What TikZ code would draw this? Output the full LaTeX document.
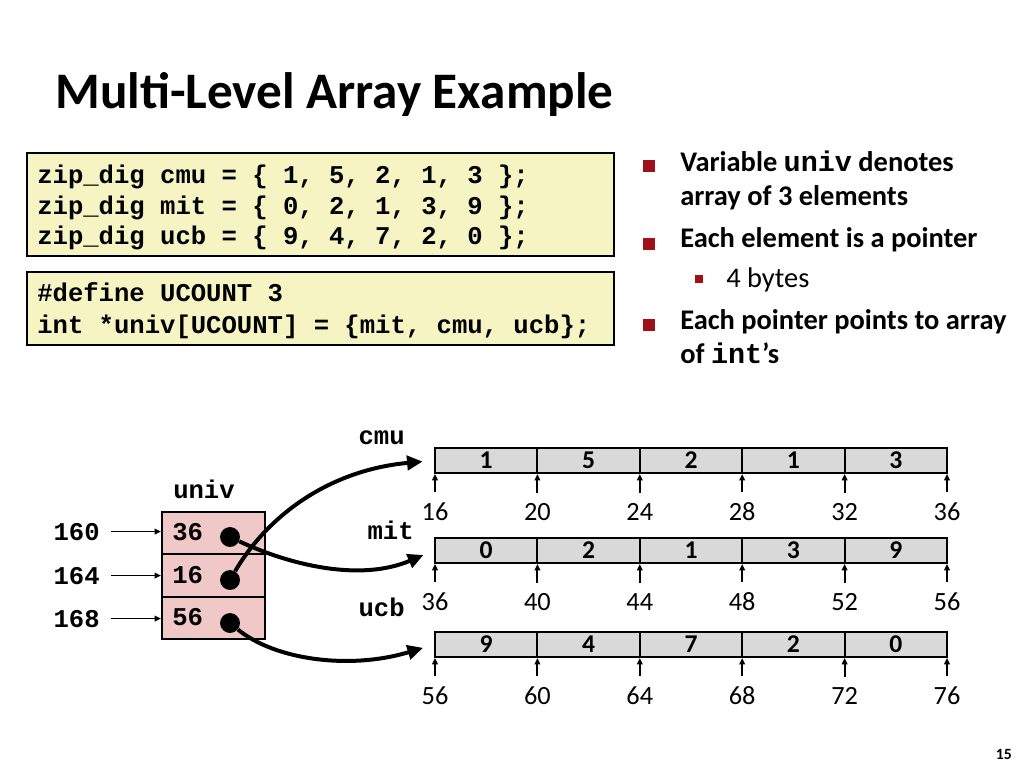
\documentclass[tikz,border=0pt]{standalone}
\usepackage{fontspec}
\setmainfont{Carlito}
\setmonofont{Liberation Mono}
\usetikzlibrary{arrows.meta}
\definecolor{codebg}{RGB}{247,244,196}
\definecolor{univbg}{RGB}{240,200,200}
\definecolor{cellbg}{RGB}{217,217,217}
\definecolor{bulletred}{RGB}{160,16,24}

\tikzset{
  codebox/.style={draw, fill=codebg, line width=1pt, minimum width=412.7pt, inner sep=0pt},
  codetxt/.style={anchor=base west, inner sep=0pt, font=\ttfamily\bfseries\fontsize{18}{21}\selectfont},
  bullet/.style={fill=bulletred, minimum size=8pt, inner sep=0pt},
  subbullet/.style={fill=bulletred, minimum size=5.5pt, inner sep=0pt},
  btxt/.style={anchor=base west, inner sep=0pt, font=\bfseries\fontsize{20}{24}\selectfont},
  mono/.style={font=\ttfamily\bfseries\fontsize{18}{21}\selectfont},
  ucell/.style={draw, fill=univbg, line width=1.4pt, minimum width=72.4pt, minimum height=29.9pt, inner sep=0pt},
  dot/.style={circle, fill=black, minimum size=14pt, inner sep=0pt},
  cell/.style={draw, fill=cellbg, line width=1.4pt, minimum width=72pt, minimum height=17.6pt, inner sep=0pt, font=\bfseries\fontsize{18}{21}\selectfont},
  addr/.style={anchor=base, inner sep=0pt, font=\fontsize{18.5}{22}\selectfont},
  tick/.style={line width=1.4pt, -{Triangle[length=4.5pt,width=4pt]}},
  addrarrow/.style={line width=1.1pt, -{Triangle[length=4.5pt,width=4pt]}, shorten <=8pt},
  ptr/.style={line width=2.8pt, -{Triangle[length=11pt,width=10pt]}, shorten >=8pt}
}

\begin{document}
\begin{tikzpicture}[x=0.703125pt, y=-0.703125pt]
    \useasboundingbox (0,0) rectangle (1024,768);

    % title
    \node[anchor=base west, inner sep=0pt, font=\bfseries\fontsize{36}{43}\selectfont] (title) at (55,109) {Multi-Level Array Example};

    % code boxes
    \node[codebox, minimum height=72.4pt] (codeA) at (320.5,204.5) {};
    \node[codetxt] (codeA1) at (37,184) {zip\_dig cmu = \{ 1, 5, 2, 1, 3 \};};
    \node[codetxt] (codeA2) at (37,214.5) {zip\_dig mit = \{ 0, 2, 1, 3, 9 \};};
    \node[codetxt] (codeA3) at (37,245) {zip\_dig ucb = \{ 9, 4, 7, 2, 0 \};};
    \node[codebox, minimum height=51.3pt] (codeB) at (320.5,308.5) {};
    \node[codetxt] (codeB1) at (37,302) {\#define UCOUNT 3};
    \node[codetxt] (codeB2) at (37,333) {int *univ[UCOUNT] = \{mit, cmu, ucb\};};

    % bullets
    \node[bullet] (b1) at (649,166) {};
    \node[btxt] (t1a) at (680,172) {Variable \texttt{univ} denotes};
    \node[btxt] (t1b) at (680,206) {array of 3 elements};
    \node[bullet] (b2) at (649,244) {};
    \node[btxt] (t2) at (680,248) {Each element is a pointer};
    \node[subbullet] (b3) at (699,279) {};
    \node[btxt, font=\fontsize{20}{24}\selectfont] (t3) at (726,288) {4 bytes};
    \node[bullet] (b4) at (649,325) {};
    \node[btxt] (t4a) at (680,330) {Each pointer points to array};
    \node[btxt] (t4b) at (680,363) {of \texttt{int}’s};

    % univ
    \node[mono] (univlbl) at (204,489) {univ};
    \node[ucell] (u0) at (213.5,533) {};
    \node[ucell] (u1) at (213.5,575.5) {};
    \node[ucell] (u2) at (213.5,618) {};
    \node[mono, anchor=base west, inner sep=0pt] (v0) at (172,540) {36};
    \node[mono, anchor=base west, inner sep=0pt] (v1) at (172,583) {16};
    \node[mono, anchor=base west, inner sep=0pt] (v2) at (172,625) {56};
    \node[dot] (d0) at (230,537) {};
    \node[dot] (d1) at (230,580) {};
    \node[dot] (d2) at (230,623) {};

    \node[mono, anchor=base east, inner sep=0pt] (a0) at (100,540) {160};
    \node[mono, anchor=base east, inner sep=0pt] (a1) at (100,584) {164};
    \node[mono, anchor=base east, inner sep=0pt] (a2) at (100,627) {168};
    \draw[addrarrow] (a0.east) -- (a0.east -| u0.west);
    \draw[addrarrow] (a1.east) -- (a1.east -| u1.west);
    \draw[addrarrow] (a2.east) -- (a2.east -| u2.west);

    % arrays
    \node[mono, anchor=base east, inner sep=0pt] (cmulbl) at (405,444) {cmu};
    \node[mono, anchor=base east, inner sep=0pt] (mitlbl) at (414,539) {mit};
    \node[mono, anchor=base east, inner sep=0pt] (ucblbl) at (405,616) {ucb};
    \foreach \arr/\y/\base/\vals in {cmu/460.5/16/{1,5,2,1,3}, mit/550.5/36/{0,2,1,3,9}, ucb/644.5/56/{9,4,7,2,0}} {
        \foreach \v [count=\i from 0] in \vals
            \node[cell] (\arr-\i) at (486.2+102.4*\i,\y) {\v};
        \foreach \i in {0,...,5} {
            \pgfmathtruncatemacro\lab{\base+4*\i}
            \node[addr] (\arr-a\i) at (435+102.4*\i,\y+60) {\lab};
            \draw[tick] ([yshift=7pt]\arr-a\i.north) -- (\arr-a\i.north |- \arr-0.south);
        }
    }

    % pointers
    \draw[ptr] (d1) .. controls (268,515) and (330,470) .. (cmu-0.west);
    \draw[ptr] (d0) .. controls (290,565) and (360,582) .. (mit-0.west);
    \draw[ptr] (d2) .. controls (275,660) and (350,670) .. (ucb-0.west);

    % page number
    \node[anchor=base east, inner sep=0pt, font=\bfseries\fontsize{11}{13}\selectfont] (pg) at (1012,759) {15};

\end{tikzpicture}
\end{document}
